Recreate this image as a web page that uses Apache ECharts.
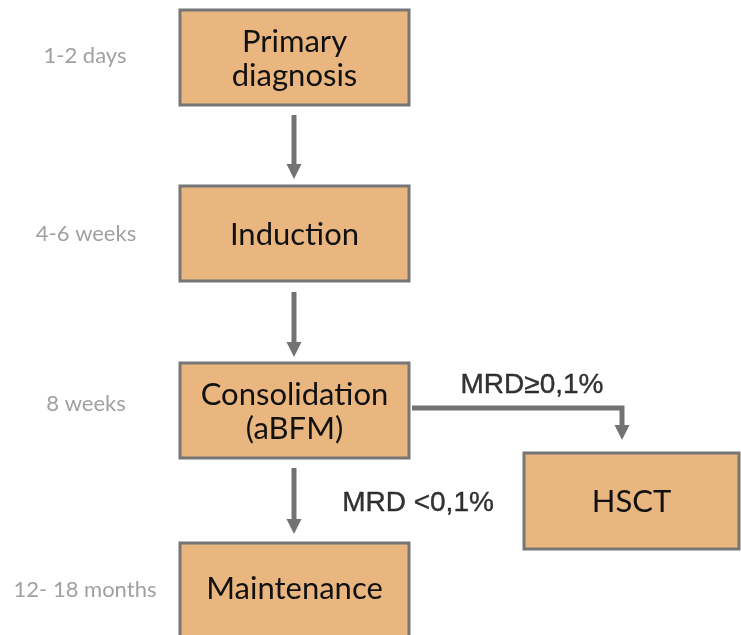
<!DOCTYPE html>
<html>
<head>
<meta charset="utf-8">
<script src="https://cdn.jsdelivr.net/npm/echarts@6/dist/echarts.min.js"></script>
<style>
  html, body { margin: 0; padding: 0; background: #fff; }
  #chart { width: 741px; height: 635px; }
</style>
</head>
<body>
<div id="chart"></div>
<script>
// treatment stages and durations
var stages = ['Primary\ndiagnosis', 'Induction', 'Consolidation\n(aBFM)', 'Maintenance', 'HSCT'];
var durations = ['1-2 days', '4-6 weeks', '8 weeks', '12- 18 months'];
var branchLabels = ['MRD≥0,1%', 'MRD <0,1%'];

// layout (pixel space of the hidden axes)
var boxRects = [[180, 10, 409, 105], [180, 186, 409, 281], [180, 363, 409, 458], [180, 543, 409, 650], [524, 453, 739, 549]];
var durationPos = [[85, 56], [86, 234], [86, 404], [85, 590]];
var arrowPaths = [
    [[294, 115], [294, 179]],
    [[294, 292], [294, 357]],
    [[294, 468], [294, 534]],
    [[412, 408], [622, 408], [622, 440]]
];
var branchPos = [[532, 385], [418, 503]];

var chart = echarts.init(document.getElementById('chart'));

var boxData = boxRects.map(function (r, i) {
    return { value: r, name: stages[i] };
});

var option = {
    animation: false,
    grid: { left: 0, right: 0, top: 0, bottom: 0 },
    xAxis: { type: 'value', min: 0, max: 741, show: false },
    yAxis: { type: 'value', min: 0, max: 635, inverse: true, show: false },
    series: [
        {
            type: 'custom',
            data: boxData,
            renderItem: function (params, api) {
                var p0 = api.coord([api.value(0), api.value(1)]);
                var p1 = api.coord([api.value(2), api.value(3)]);
                return {
                    type: 'group',
                    children: [{
                        type: 'rect',
                        shape: { x: p0[0], y: p0[1], width: p1[0] - p0[0], height: p1[1] - p0[1] },
                        style: { fill: '#E9B680', stroke: '#767676', lineWidth: 3 }
                    }, {
                        type: 'text',
                        x: (p0[0] + p1[0]) / 2,
                        y: params.dataIndex === 3 ? 589 : (p0[1] + p1[1]) / 2 + 1,
                        style: {
                            text: boxData[params.dataIndex].name,
                            align: 'center',
                            verticalAlign: 'middle',
                            font: '31px Lato',
                            lineHeight: 34,
                            fill: '#111'
                        }
                    }]
                };
            }
        },
        {
            type: 'custom',
            data: arrowPaths.map(function (p, i) { return { value: [i] }; }),
            renderItem: function (params, api) {
                var pts = arrowPaths[params.dataIndex].map(function (q) { return api.coord(q); });
                var tip = pts[pts.length - 1];
                var head = 15, half = 7.5;
                var shaft = pts.slice(0, -1).concat([[tip[0], tip[1] - head + 1]]);
                return {
                    type: 'group',
                    children: [{
                        type: 'polyline',
                        shape: { points: shaft },
                        style: { stroke: '#737373', lineWidth: 5, fill: null }
                    }, {
                        type: 'polygon',
                        shape: { points: [[tip[0] - half, tip[1] - head], [tip[0] + half, tip[1] - head], tip] },
                        style: { fill: '#737373' }
                    }]
                };
            }
        },
        {
            type: 'scatter',
            symbolSize: 0,
            data: durationPos.map(function (p, i) { return { value: p, name: durations[i] }; }),
            label: {
                show: true,
                position: 'inside',
                formatter: '{b}',
                fontFamily: 'Lato',
                fontSize: 22,
                color: '#888888'
            }
        },
        {
            type: 'scatter',
            symbolSize: 0,
            data: branchPos.map(function (p, i) { return { value: p, name: branchLabels[i] }; }),
            label: {
                show: true,
                position: 'inside',
                formatter: '{b}',
                fontFamily: 'Liberation Sans',
                fontSize: 28,
                color: '#000000',
                textBorderColor: '#000000',
                textBorderWidth: 0.4
            }
        }
    ]
};

chart.setOption(option);
</script>
</body>
</html>
